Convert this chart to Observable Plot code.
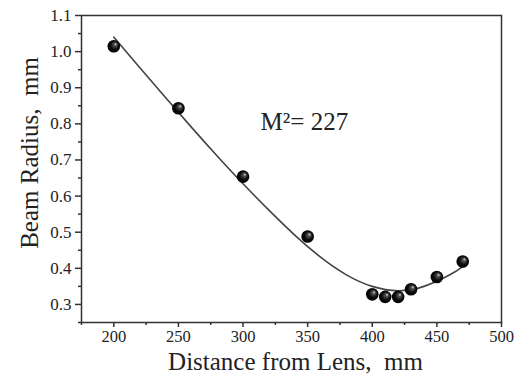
<!DOCTYPE html>
<html>
<head>
<meta charset="utf-8">
<script src="https://cdn.jsdelivr.net/npm/d3@7"></script>
<script src="https://cdn.jsdelivr.net/npm/@observablehq/plot@0.6"></script>
<style>
  html, body { margin: 0; padding: 0; background: #fff; }
  #chart { width: 518px; height: 374px; }
</style>
</head>
<body>
<div id="chart"></div>
<script>
// Measured beam radius
const distance = [200, 250, 300, 350, 400, 410, 420, 430, 450, 470];
const radius   = [1.015, 0.843, 0.654, 0.488, 0.328, 0.321, 0.321, 0.342, 0.376, 0.419];

// Fitted curve
const fitDistance = [200, 220, 240, 260, 280, 300, 320, 340, 360, 380, 400, 420, 440, 460, 470];
const fitRadius   = [1.040, 0.956, 0.873, 0.791, 0.711, 0.634, 0.561, 0.492, 0.431, 0.382, 0.350, 0.338, 0.350, 0.382, 0.405];

const xTicks = [200, 250, 300, 350, 400, 450, 500];
const xMinor = [175, 225, 275, 325, 375, 425, 475];
const yTicks = [0.3, 0.4, 0.5, 0.6, 0.7, 0.8, 0.9, 1.0, 1.1];
const yMinor = [0.25, 0.35, 0.45, 0.55, 0.65, 0.75, 0.85, 0.95, 1.05];

const annotation = "M²= 227";
const xLabel = "Distance from Lens,\u00a0 mm";
const yLabel = "Beam Radius,\u00a0 mm";

const points = distance.map((d, i) => ({d, r: radius[i]}));
const fit = fitDistance.map((d, i) => ({d, r: fitRadius[i]}));

const font = "Liberation Serif";

const plot = Plot.plot({
  width: 518,
  height: 374,
  marginLeft: 81,
  marginRight: 17,
  marginTop: 15,
  marginBottom: 52,
  style: {fontFamily: font, background: "#fff", color: "#222"},
  x: {domain: [175, 500]},
  y: {domain: [0.25, 1.1]},
  marks: [
    Plot.frame({stroke: "#333", strokeWidth: 1.5}),
    Plot.axisX({ticks: xTicks, tickSize: 5, tickPadding: 3, fontSize: 16.5, fontFamily: font, label: null, stroke: "#333", strokeWidth: 1.5, tickFormat: d3.format("d")}),
    Plot.axisX({ticks: xMinor, tickSize: 3, label: null, stroke: "#333", strokeWidth: 1.5, tickFormat: () => ""}),
    Plot.axisY({ticks: yTicks, tickSize: 6, tickPadding: 4, fontSize: 17, fontFamily: font, label: null, stroke: "#333", strokeWidth: 1.5, tickFormat: d3.format(".1f")}),
    Plot.axisY({ticks: yMinor, tickSize: 3, label: null, stroke: "#333", strokeWidth: 1.5, tickFormat: () => ""}),
    Plot.line(fit, {x: "d", y: "r", curve: "natural", stroke: "#444", strokeWidth: 1.6}),
    Plot.dot(points, {x: "d", y: "r", r: 6.3, fill: "url(#sphere)", stroke: "none"}),
    Plot.text([annotation], {x: 313.6, y: 0.806, text: d => d, fontSize: 25, fontFamily: font, textAnchor: "start", lineAnchor: "middle", fill: "#222"}),
    Plot.text([xLabel], {frameAnchor: "bottom", dy: 39, dx: 4, text: d => d, fontSize: 25, fontFamily: font, textAnchor: "middle", lineAnchor: "middle", fill: "#222"}),
    Plot.text([yLabel], {frameAnchor: "left", dx: -52, dy: -16, rotate: -90, text: d => d, fontSize: 25, fontFamily: font, textAnchor: "middle", lineAnchor: "middle", fill: "#222"})
  ]
});

// radial gradient for the glossy spheres
const svg = d3.select(plot);
const defs = svg.insert("defs", ":first-child");
const g = defs.append("radialGradient").attr("id", "sphere")
  .attr("cx", "0.5").attr("cy", "0.5").attr("r", "0.55")
  .attr("fx", "0.66").attr("fy", "0.32");
g.append("stop").attr("offset", "0").attr("stop-color", "#e8e8e8");
g.append("stop").attr("offset", "0.2").attr("stop-color", "#555");
g.append("stop").attr("offset", "0.6").attr("stop-color", "#0a0a0a");
g.append("stop").attr("offset", "1").attr("stop-color", "#000");

document.getElementById("chart").appendChild(plot);
</script>
</body>
</html>
